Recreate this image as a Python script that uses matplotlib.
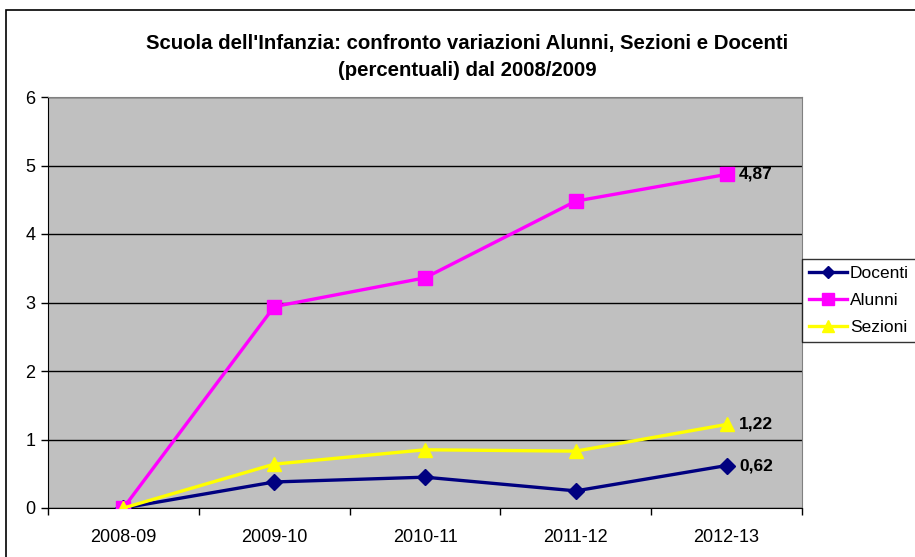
import matplotlib.pyplot as plt
from matplotlib.patches import Rectangle

# ==============================
# DATI
# ==============================
anni = ["2008-09", "2009-10", "2010-11", "2011-12", "2012-13"]
docenti = [0.0, 0.38, 0.45, 0.25, 0.62]
alunni = [0.0, 2.94, 3.36, 4.48, 4.87]
sezioni = [0.0, 0.64, 0.85, 0.83, 1.22]

plt.rcParams["font.family"] = ["Liberation Sans", "DejaVu Sans"]

# ==============================
# GRAFICO
# ==============================
fig = plt.figure(figsize=(9.15, 5.57), dpi=100)
ax = fig.add_axes([48 / 915, 49 / 557, 754 / 915, 411 / 557])
ax.set_facecolor("#C0C0C0")

x = list(range(len(anni)))
ax.plot(x, docenti, color="#000080", lw=2.4, marker="D", ms=8, label="Docenti", zorder=3)
ax.plot(x, alunni, color="#FF00FF", lw=2.4, marker="s", ms=10, label="Alunni", zorder=4)
ax.plot(x, sezioni, color="#FFFF00", lw=2.4, marker="^", ms=10, label="Sezioni", zorder=5)

# etichette ultimo valore
for serie in (alunni, sezioni, docenti):
    v = serie[-1]
    ax.annotate(f"{v:.2f}".replace(".", ","), (x[-1], v), xytext=(9, 0),
                textcoords="offset points", va="center", ha="left",
                fontsize=12.5, fontweight="bold", zorder=6)

ax.set_xlim(-0.5, len(anni) - 0.5)
ax.set_ylim(0, 6)
ax.set_yticks(range(0, 7))
ax.set_xticks(x)
ax.set_xticklabels(anni)
ax.set_xticks([i - 0.5 for i in range(len(anni) + 1)], minor=True)
ax.tick_params(axis="x", which="major", length=0, pad=15, labelsize=13)
ax.tick_params(axis="x", which="minor", length=5, width=1, direction="out")
ax.tick_params(axis="y", length=5, width=1, direction="out", labelsize=13, pad=4)

ax.grid(axis="y", color="black", lw=1)
ax.set_axisbelow(True)
for lato in ("top", "right"):
    ax.spines[lato].set_color("#808080")
for lato in ("left", "bottom"):
    ax.spines[lato].set_color("black")

leg = ax.legend(loc="upper left", bbox_to_anchor=(1.0, 0.607), fontsize=12.5,
                frameon=True, fancybox=False, edgecolor="black",
                handlelength=2.2, handletextpad=0.15, borderpad=0.4,
                labelspacing=0.7, borderaxespad=0, markerscale=0.8)
leg.get_frame().set_linewidth(1)

fig.text(467 / 915, 1 - 43 / 557, "Scuola dell'Infanzia: confronto variazioni Alunni, Sezioni e Docenti",
         ha="center", va="center", fontsize=14.7, fontweight="bold")
fig.text(467 / 915, 1 - 70 / 557, "(percentuali) dal 2008/2009",
         ha="center", va="center", fontsize=14.7, fontweight="bold")

# cornice esterna
fig.patches.append(Rectangle((6 / 915, -0.05), 1.0, 1 - 10 / 557 + 0.05,
                             transform=fig.transFigure, fill=False,
                             edgecolor="black", lw=1.2))

fig.savefig("out.png", dpi=100)
